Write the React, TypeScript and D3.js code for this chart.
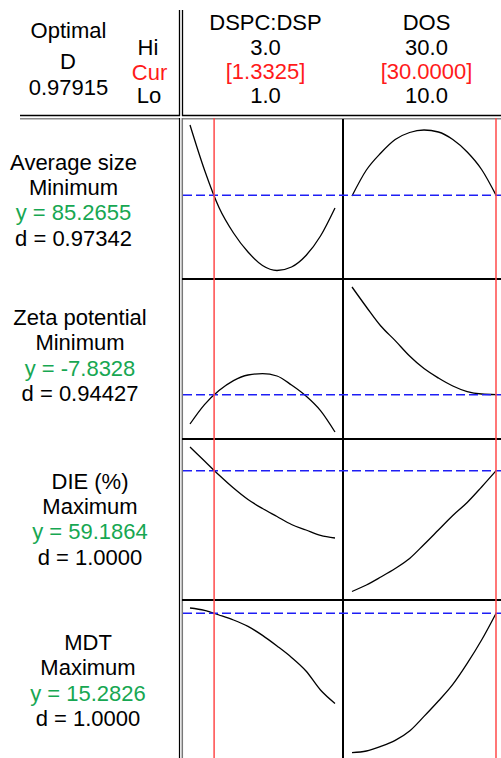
import React from "react";
import * as d3 from "d3";

// ---- data ----
const factorNames = ["DSPC:DSP", "DOS"];
const factorHi = ["3.0", "30.0"];
const factorLo = ["1.0", "10.0"];
const factorCurLabel = ["[1.3325]", "[30.0000]"];
const factorCur = [1.3325, 30.0];
const factorDomains = [[1.0, 3.0], [10, 30]];

const dspcLevels = [1.0, 1.2, 1.4, 1.6, 1.8, 2.0, 2.2, 2.4, 2.6, 2.8, 3.0];
const dosLevels = [10, 12, 14, 16, 18, 20, 22, 24, 26, 28, 30];

const responseNames = ["Average size", "Zeta potential", "DIE (%)", "MDT"];
const responseGoals = ["Minimum", "Minimum", "Maximum", "Maximum"];
const responseY = [85.2655, -7.8328, 59.1864, 15.2826];
const responseYLabel = ["85.2655", "-7.8328", "59.1864", "15.2826"];
const responseD = ["0.97342", "0.94427", "1.0000", "1.0000"];
const optimalD = "0.97915";

const avgSizeVsDspc = [99.3, 90.3, 82.8, 77.7, 73.9, 71.2, 70.2, 70.9, 73.2, 77.1, 82.7];
const avgSizeVsDos = [85.1, 90.3, 93.7, 96.4, 97.8, 98.3, 97.9, 96.4, 93.9, 90.4, 85.27];
const zetaVsDspc = [-9.3, -8.33, -7.63, -7.13, -6.85, -6.78, -6.9, -7.35, -7.9, -8.63, -9.7];
const zetaVsDos = [-2.45, -3.45, -4.4, -5.13, -5.9, -6.53, -7.0, -7.4, -7.68, -7.8, -7.83];
const dieVsDspc = [65.15, 61.65, 58.15, 54.9, 52.03, 49.78, 47.78, 45.78, 44.4, 43.03, 42.4];
const dieVsDos = [29.03, 30.65, 32.65, 34.78, 37.28, 40.78, 44.4, 48.03, 51.28, 55.15, 59.19];
const mdtVsDspc = [15.55, 15.43, 15.2, 14.95, 14.63, 14.18, 13.65, 13.08, 12.4, 11.45, 10.78];
const mdtVsDos = [8.32, 8.4, 8.63, 8.93, 9.4, 10.13, 10.9, 11.73, 12.78, 13.95, 15.28];

const curvesByRow = [
  [avgSizeVsDspc, avgSizeVsDos],
  [zetaVsDspc, zetaVsDos],
  [dieVsDspc, dieVsDos],
  [mdtVsDspc, mdtVsDos],
];
const rowDomains = [[68.7, 100.5], [-10.0, -2.05], [27.4, 67.15], [8.05, 15.95]];

// ---- layout ----
const W = 501;
const H = 758;
const FONT = "'Liberation Sans', Arial, Helvetica, sans-serif";
const FS = 22;
const rowTops = [119, 279, 439, 600];
const rowBottoms = [278, 438, 598, 758];
const panelLeft = 182;
const panelMid = 343;
const xRanges = [[190, 335], [352, 496]];
const labelCx = [73.5, 80, 90, 88];
const labelBase = [169.5, 325, 488.5, 650];
const lineGap = 25.4;
const colCenters = [265.5, 426.5];
const GREEN = "#17a752";
const RED = "#ff1a1a";

export default function App() {
  const xScales = factorDomains.map((dom, i) =>
    d3.scaleLinear().domain(dom).range(xRanges[i])
  );
  const levels = [dspcLevels, dosLevels];

  return (
    <svg
      width={W}
      height={H}
      style={{ position: "absolute", left: 0, top: 0, display: "block", background: "#fff" }}
      fontFamily={FONT}
      fontSize={FS}
    >
      <rect x={0} y={0} width={W} height={H} fill="#fff" />
      {/* header left */}
      <g textAnchor="middle" fill="#000">
        <text x={68.5} y={37.5}>Optimal</text>
        <text x={68} y={68.5}>D</text>
        <text x={68.5} y={95}>{optimalD}</text>
        <text x={148} y={55}>Hi</text>
        <text x={149.5} y={79.5} fill={RED}>Cur</text>
        <text x={149} y={102.5}>Lo</text>
      </g>
      {/* header factors */}
      <g textAnchor="middle">
        {factorNames.map((n, i) => (
          <g key={n}>
            <text x={colCenters[i]} y={30}>{n}</text>
            <text x={colCenters[i]} y={55}>{factorHi[i]}</text>
            <text x={colCenters[i]} y={78.5} fill={RED}>{factorCurLabel[i]}</text>
            <text x={colCenters[i]} y={103}>{factorLo[i]}</text>
          </g>
        ))}
      </g>

      {/* frame lines */}
      <line x1={179.5} x2={179.5} y1={10} y2={116} stroke="#000" strokeWidth={1.3} />
      <line x1={182.5} x2={182.5} y1={10} y2={116} stroke="#000" strokeWidth={1.3} />
      <line x1={20} x2={180} y1={115.5} y2={115.5} stroke="#000" strokeWidth={1.5} />
      <line x1={182} x2={W} y1={115.5} y2={115.5} stroke="#000" strokeWidth={1.5} />
      <line x1={20} x2={179} y1={118.8} y2={118.8} stroke="#8a8a8a" strokeWidth={1.5} />
      <line x1={182} x2={W} y1={118.8} y2={118.8} stroke="#8a8a8a" strokeWidth={1.5} />
      <line x1={179.5} x2={179.5} y1={118} y2={H} stroke="#000" strokeWidth={1.2} />
      <line x1={182.3} x2={182.3} y1={118} y2={H} stroke="#777" strokeWidth={1.5} />
      <line x1={panelMid} x2={panelMid} y1={119} y2={H} stroke="#000" strokeWidth={2} />
      {rowTops.slice(1).map((t) => (
        <line key={t} x1={panelLeft} x2={W} y1={t} y2={t} stroke="#000" strokeWidth={2} />
      ))}

      {/* row labels */}
      {responseNames.map((name, r) => (
        <g key={name} textAnchor="middle">
          <text x={labelCx[r]} y={labelBase[r]}>{name}</text>
          <text x={labelCx[r]} y={labelBase[r] + lineGap}>{responseGoals[r]}</text>
          <text x={labelCx[r]} y={labelBase[r] + 2 * lineGap} fill={GREEN}>
            {"y = " + responseYLabel[r]}
          </text>
          <text x={labelCx[r]} y={labelBase[r] + 3 * lineGap}>{"d = " + responseD[r]}</text>
        </g>
      ))}

      {/* curves */}
      {curvesByRow.map((pair, r) => {
        const y = d3.scaleLinear().domain(rowDomains[r]).range([rowBottoms[r], rowTops[r]]);
        return (
          <g key={r}>
            {pair.map((vals, c) => {
              const line = d3
                .line<number>()
                .x((_, i) => xScales[c](levels[c][i]))
                .y((v) => y(v))
                .curve(d3.curveMonotoneX);
              return (
                <path key={c} d={line(vals) || ""} fill="none" stroke="#000" strokeWidth={1.3} />
              );
            })}
            <line
              x1={panelLeft + 1}
              x2={W}
              y1={y(responseY[r])}
              y2={y(responseY[r])}
              stroke="#1e1ef5"
              strokeWidth={1.5}
              strokeDasharray="9,4"
            />
          </g>
        );
      })}

      {/* current settings */}
      {factorCur.map((v, i) => (
        <line
          key={i}
          x1={xScales[i](v)}
          x2={xScales[i](v)}
          y1={118}
          y2={H}
          stroke="#ff4a4a"
          strokeWidth={1.5}
        />
      ))}
    </svg>
  );
}
